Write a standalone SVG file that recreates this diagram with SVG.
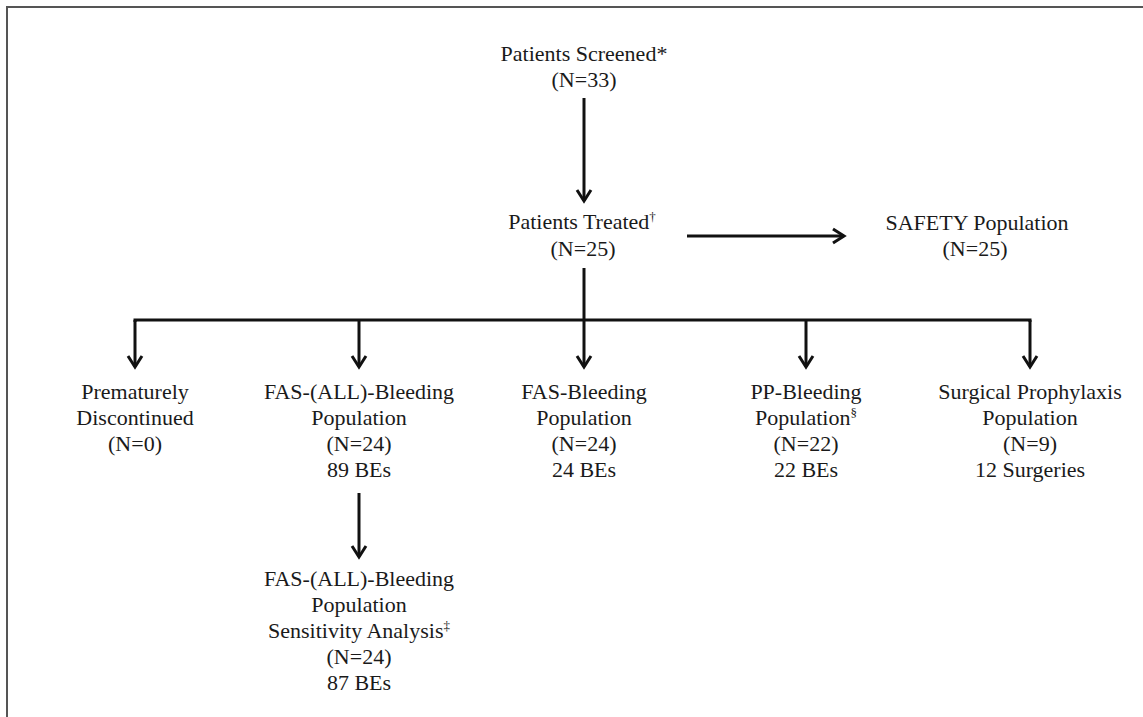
<svg xmlns="http://www.w3.org/2000/svg" width="1143" height="717" viewBox="0 0 1143 717">
<defs>
<style>
text{font-family:'Liberation Serif','DejaVu Serif',serif;font-size:22px;fill:#1a1a1a;text-anchor:middle}
.sup{font-size:13px}
.c{fill:none;stroke:#111;stroke-width:3}
.frame{fill:none;stroke:#555;stroke-width:2}
</style>
<marker id="ah" markerUnits="userSpaceOnUse" viewBox="-14 -10 16 20" markerWidth="16" markerHeight="20" refX="0" refY="0" orient="auto" overflow="visible">
<path d="M-11,-7 L0,0 L-11,7" fill="none" stroke="#111" stroke-width="3"/>
</marker>
</defs>
<rect width="1143" height="717" fill="#fff"/>
<path class="frame" d="M7,717 V7 H1143"/>
<g id="connectors">
<path class="c" d="M584,98 V201" marker-end="url(#ah)"/>
<path class="c" d="M687,236 H844" marker-end="url(#ah)"/>
<path class="c" d="M584,268 V367" marker-end="url(#ah)"/>
<path class="c" d="M135,322 V320 H1030 V322"/>
<path class="c" d="M135,320 V367" marker-end="url(#ah)"/>
<path class="c" d="M359,320 V367" marker-end="url(#ah)"/>
<path class="c" d="M806,320 V367" marker-end="url(#ah)"/>
<path class="c" d="M1030,320 V367" marker-end="url(#ah)"/>
<path class="c" d="M359,493 V557" marker-end="url(#ah)"/>
</g>
<g font-family="Liberation Serif, serif">
<g id="screened">
<text x="584" y="61">Patients Screened*</text>
<text x="584" y="87">(N=33)</text>
</g>
<g id="treated">
<text x="582" y="229">Patients Treated<tspan class="sup" dy="-8">†</tspan></text>
<text x="583" y="256">(N=25)</text>
</g>
<g id="safety">
<text x="977" y="230">SAFETY Population</text>
<text x="975" y="256">(N=25)</text>
</g>
<g id="discontinued">
<text x="135" y="399">Prematurely</text>
<text x="135" y="425">Discontinued</text>
<text x="135" y="451">(N=0)</text>
</g>
<g id="fas-all">
<text x="359" y="399">FAS-(ALL)-Bleeding</text>
<text x="359" y="425">Population</text>
<text x="359" y="451">(N=24)</text>
<text x="359" y="477">89 BEs</text>
</g>
<g id="fas">
<text x="584" y="399">FAS-Bleeding</text>
<text x="584" y="425">Population</text>
<text x="584" y="451">(N=24)</text>
<text x="584" y="477">24 BEs</text>
</g>
<g id="pp">
<text x="806" y="399">PP-Bleeding</text>
<text x="806" y="425">Population<tspan class="sup" dy="-8">§</tspan></text>
<text x="806" y="451">(N=22)</text>
<text x="806" y="477">22 BEs</text>
</g>
<g id="surgical">
<text x="1030" y="399">Surgical Prophylaxis</text>
<text x="1030" y="425">Population</text>
<text x="1030" y="451">(N=9)</text>
<text x="1030" y="477">12 Surgeries</text>
</g>
<g id="sensitivity">
<text x="359" y="586">FAS-(ALL)-Bleeding</text>
<text x="359" y="612">Population</text>
<text x="359" y="638">Sensitivity Analysis<tspan class="sup" dy="-8">‡</tspan></text>
<text x="359" y="664">(N=24)</text>
<text x="359" y="690">87 BEs</text>
</g>
</g>
</svg>
